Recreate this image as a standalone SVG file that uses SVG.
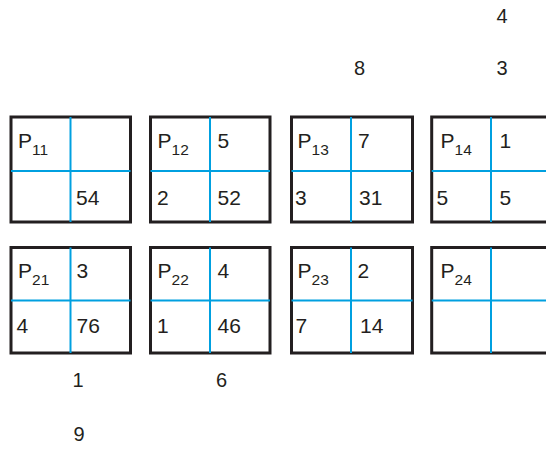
<svg xmlns="http://www.w3.org/2000/svg" width="546" height="449" viewBox="0 0 546 449">
<style>
.box{fill:#fff;stroke:#231f20;stroke-width:3}
.div{stroke:#00a0e0;stroke-width:2;fill:none}
text{font-family:"Liberation Sans",Arial,sans-serif;fill:#231f20}
.t{font-size:21px}
.o{font-size:20px}
.s{font-size:15.5px}
</style>
<rect width="546" height="449" fill="#fff"/>
<g id="P11">
<rect class="box" x="11" y="117" width="119.5" height="105"/>
<line class="div" x1="70.5" y1="117" x2="70.5" y2="222"/>
<line class="div" x1="11" y1="171" x2="130.5" y2="171"/>
<text class="t" x="18" y="148">P<tspan class="s" dy="7">11</tspan></text>
<text class="t" x="76" y="205">54</text>
</g>
<g id="P12">
<rect class="box" x="150.5" y="117" width="119.5" height="105"/>
<line class="div" x1="210" y1="117" x2="210" y2="222"/>
<line class="div" x1="150.5" y1="171" x2="270" y2="171"/>
<text class="t" x="157.5" y="148">P<tspan class="s" dy="7">12</tspan></text>
<text class="t" x="217.5" y="148">5</text>
<text class="t" x="157" y="205">2</text>
<text class="t" x="217.5" y="205">52</text>
</g>
<g id="P13">
<rect class="box" x="291.5" y="117" width="121" height="105"/>
<line class="div" x1="351" y1="117" x2="351" y2="222"/>
<line class="div" x1="291.5" y1="171" x2="412.5" y2="171"/>
<text class="t" x="297.5" y="148">P<tspan class="s" dy="7">13</tspan></text>
<text class="t" x="358" y="148">7</text>
<text class="t" x="295" y="205">3</text>
<text class="t" x="359" y="205">31</text>
</g>
<g id="P14">
<rect class="box" x="431.7" y="117" width="121" height="105"/>
<line class="div" x1="491" y1="117" x2="491" y2="222"/>
<line class="div" x1="431.7" y1="171" x2="552" y2="171"/>
<text class="t" x="440.5" y="148">P<tspan class="s" dy="7">14</tspan></text>
<text class="t" x="499.5" y="148">1</text>
<text class="t" x="436.5" y="205">5</text>
<text class="t" x="499.5" y="205">5</text>
</g>
<g id="P21">
<rect class="box" x="11" y="247.5" width="119.5" height="105.5"/>
<line class="div" x1="70.5" y1="247.5" x2="70.5" y2="353"/>
<line class="div" x1="11" y1="300.5" x2="130.5" y2="300.5"/>
<text class="t" x="18" y="278">P<tspan class="s" dy="7">21</tspan></text>
<text class="t" x="76.5" y="278">3</text>
<text class="t" x="16.5" y="333">4</text>
<text class="t" x="76.5" y="333">76</text>
</g>
<g id="P22">
<rect class="box" x="150.5" y="247.5" width="119.5" height="105.5"/>
<line class="div" x1="210" y1="247.5" x2="210" y2="353"/>
<line class="div" x1="150.5" y1="300.5" x2="270" y2="300.5"/>
<text class="t" x="157.5" y="278">P<tspan class="s" dy="7">22</tspan></text>
<text class="t" x="217.5" y="278">4</text>
<text class="t" x="157" y="333">1</text>
<text class="t" x="217.5" y="333">46</text>
</g>
<g id="P23">
<rect class="box" x="291.5" y="247.5" width="121" height="105.5"/>
<line class="div" x1="351" y1="247.5" x2="351" y2="353"/>
<line class="div" x1="291.5" y1="300.5" x2="412.5" y2="300.5"/>
<text class="t" x="297.5" y="278">P<tspan class="s" dy="7">23</tspan></text>
<text class="t" x="357.5" y="278">2</text>
<text class="t" x="295.5" y="333">7</text>
<text class="t" x="360" y="333">14</text>
</g>
<g id="P24">
<rect class="box" x="431.7" y="247.5" width="121" height="105.5"/>
<line class="div" x1="491" y1="247.5" x2="491" y2="353"/>
<line class="div" x1="431.7" y1="300.5" x2="552" y2="300.5"/>
<text class="t" x="440.5" y="278">P<tspan class="s" dy="7">24</tspan></text>
</g>
<g id="labels">
<text class="o" x="496.5" y="23">4</text>
<text class="o" x="354" y="75">8</text>
<text class="o" x="496.5" y="75">3</text>
<text class="o" x="72.5" y="387">1</text>
<text class="o" x="216" y="387">6</text>
<text class="o" x="73.5" y="441">9</text>
</g>
<g id="connectors"></g>
</svg>
